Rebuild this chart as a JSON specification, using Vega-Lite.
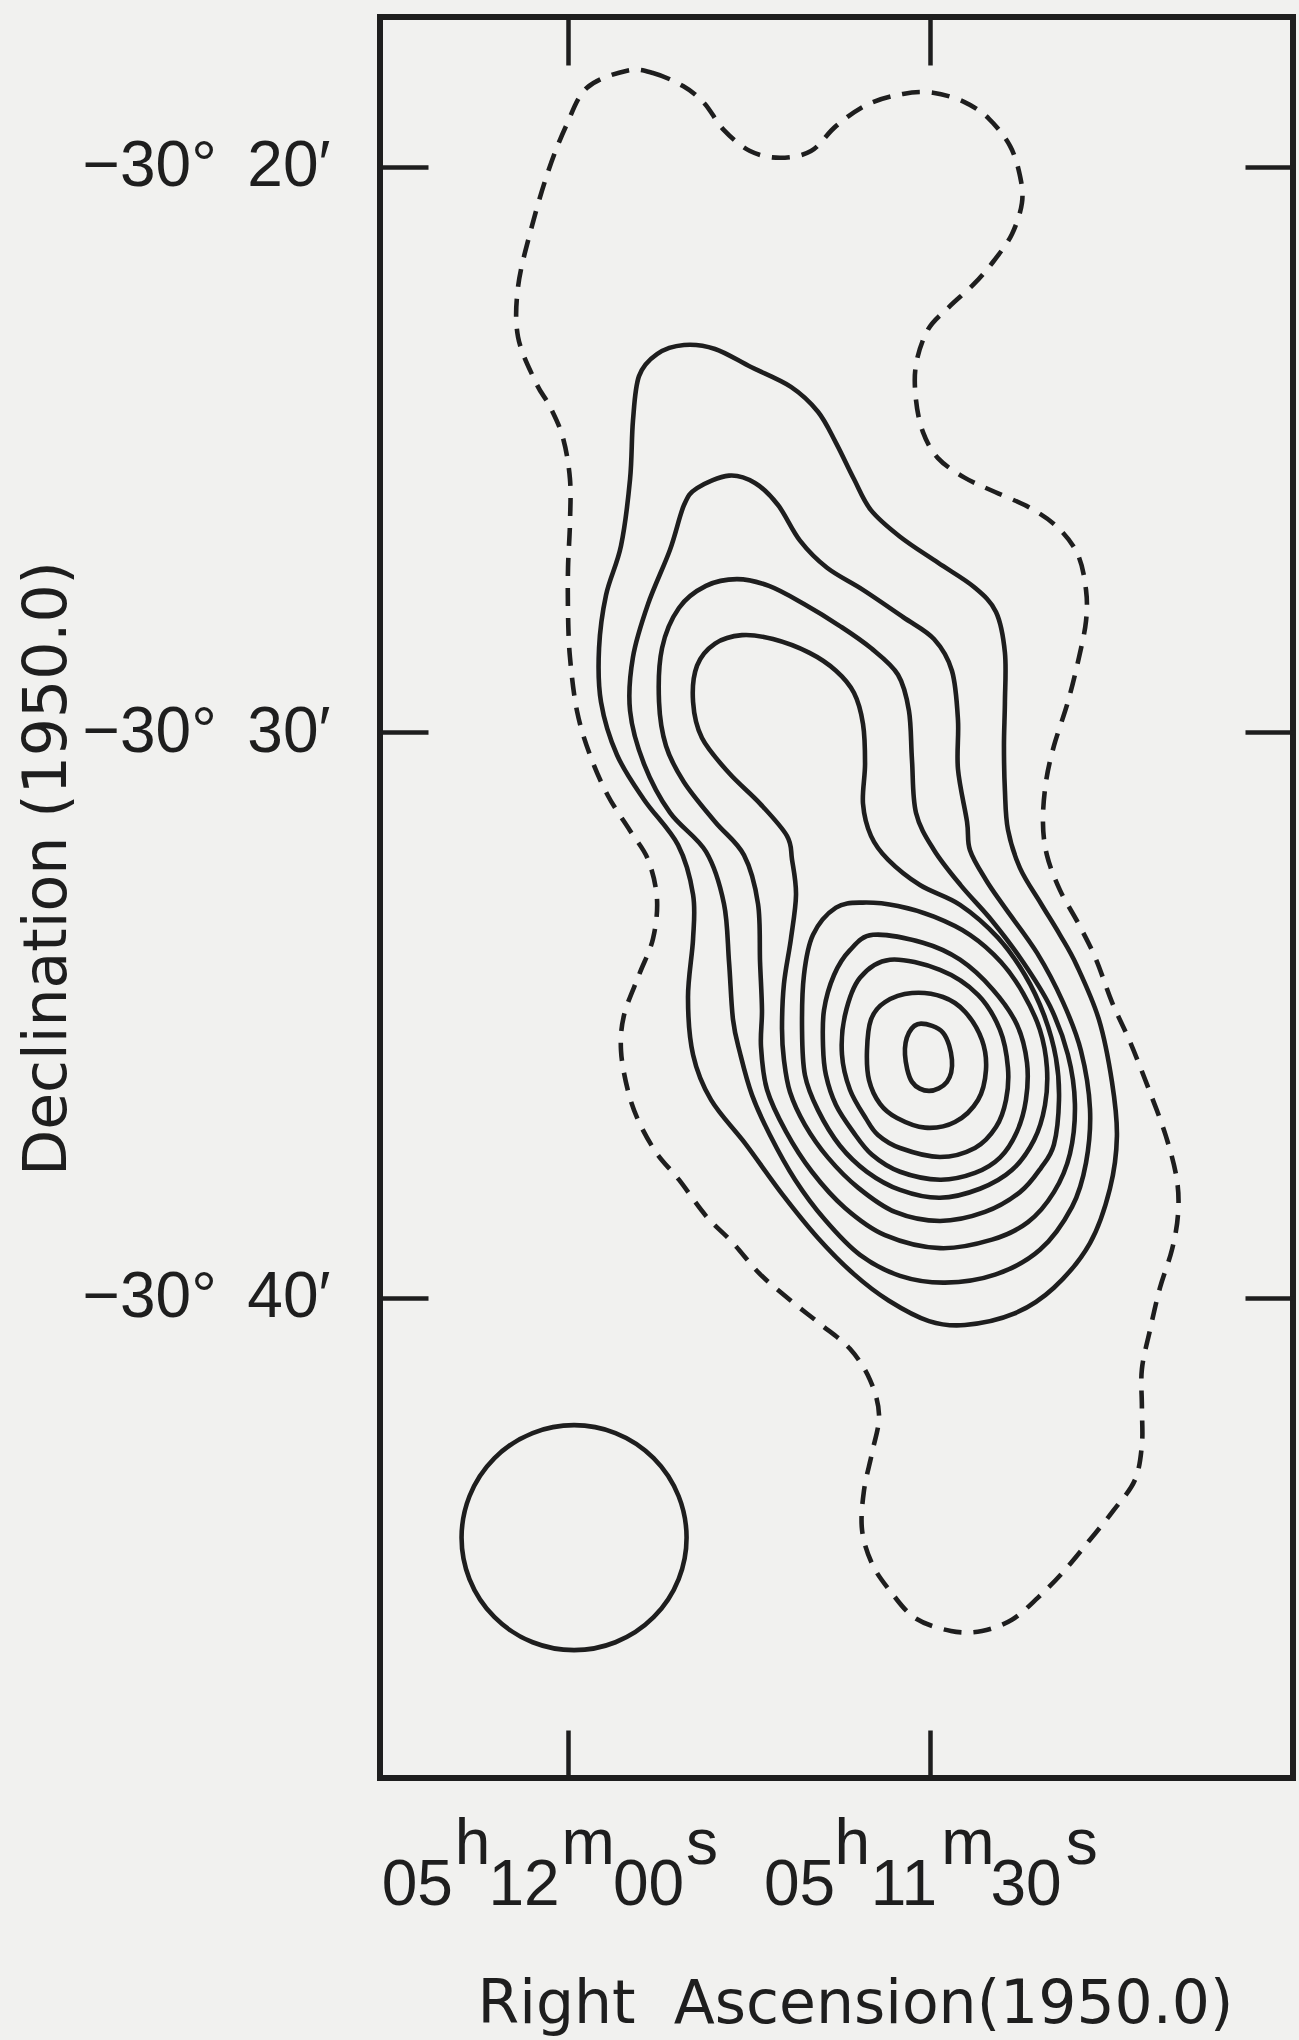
{
"$schema": "https://vega.github.io/schema/vega-lite/v6.json",
"width": 913, "height": 1761,
"autosize": {"type": "none"},
"padding": {"left": 380, "top": 17, "right": 6, "bottom": 262},
"background": "#f1f1ef",
"config": {"view": {"stroke": "#1e1e1e", "strokeWidth": 6}},
"datasets": {
"beam": [{"ra_s": 59.50, "dec_am": 44.24}],
"contours": [
{"contour":"d0","kind":"dashed","order":1,"ra_s":55.11,"dec_am":18.30},
{"contour":"d0","kind":"dashed","order":2,"ra_s":52.96,"dec_am":18.34},
{"contour":"d0","kind":"dashed","order":3,"ra_s":50.47,"dec_am":18.57},
{"contour":"d0","kind":"dashed","order":4,"ra_s":48.73,"dec_am":18.87},
{"contour":"d0","kind":"dashed","order":5,"ra_s":47.08,"dec_am":19.35},
{"contour":"d0","kind":"dashed","order":6,"ra_s":44.92,"dec_am":19.72},
{"contour":"d0","kind":"dashed","order":7,"ra_s":42.44,"dec_am":19.84},
{"contour":"d0","kind":"dashed","order":8,"ra_s":39.87,"dec_am":19.72},
{"contour":"d0","kind":"dashed","order":9,"ra_s":37.80,"dec_am":19.28},
{"contour":"d0","kind":"dashed","order":10,"ra_s":35.23,"dec_am":18.90},
{"contour":"d0","kind":"dashed","order":11,"ra_s":32.25,"dec_am":18.71},
{"contour":"d0","kind":"dashed","order":12,"ra_s":29.76,"dec_am":18.69},
{"contour":"d0","kind":"dashed","order":13,"ra_s":27.19,"dec_am":18.85},
{"contour":"d0","kind":"dashed","order":14,"ra_s":25.12,"dec_am":19.15},
{"contour":"d0","kind":"dashed","order":15,"ra_s":23.38,"dec_am":19.63},
{"contour":"d0","kind":"dashed","order":16,"ra_s":22.55,"dec_am":20.16},
{"contour":"d0","kind":"dashed","order":17,"ra_s":22.39,"dec_am":20.64},
{"contour":"d0","kind":"dashed","order":18,"ra_s":23.22,"dec_am":21.19},
{"contour":"d0","kind":"dashed","order":19,"ra_s":24.71,"dec_am":21.66},
{"contour":"d0","kind":"dashed","order":20,"ra_s":26.36,"dec_am":22.07},
{"contour":"d0","kind":"dashed","order":21,"ra_s":28.44,"dec_am":22.48},
{"contour":"d0","kind":"dashed","order":22,"ra_s":30.18,"dec_am":22.88},
{"contour":"d0","kind":"dashed","order":23,"ra_s":31.17,"dec_am":23.50},
{"contour":"d0","kind":"dashed","order":24,"ra_s":31.17,"dec_am":24.12},
{"contour":"d0","kind":"dashed","order":25,"ra_s":30.59,"dec_am":24.69},
{"contour":"d0","kind":"dashed","order":26,"ra_s":29.35,"dec_am":25.15},
{"contour":"d0","kind":"dashed","order":27,"ra_s":27.11,"dec_am":25.50},
{"contour":"d0","kind":"dashed","order":28,"ra_s":24.62,"dec_am":25.75},
{"contour":"d0","kind":"dashed","order":29,"ra_s":21.72,"dec_am":26.03},
{"contour":"d0","kind":"dashed","order":30,"ra_s":19.40,"dec_am":26.38},
{"contour":"d0","kind":"dashed","order":31,"ra_s":17.75,"dec_am":26.86},
{"contour":"d0","kind":"dashed","order":32,"ra_s":17.08,"dec_am":27.48},
{"contour":"d0","kind":"dashed","order":33,"ra_s":17.08,"dec_am":28.03},
{"contour":"d0","kind":"dashed","order":34,"ra_s":17.66,"dec_am":28.67},
{"contour":"d0","kind":"dashed","order":35,"ra_s":18.58,"dec_am":29.46},
{"contour":"d0","kind":"dashed","order":36,"ra_s":19.74,"dec_am":30.24},
{"contour":"d0","kind":"dashed","order":37,"ra_s":20.40,"dec_am":30.88},
{"contour":"d0","kind":"dashed","order":38,"ra_s":20.65,"dec_am":31.58},
{"contour":"d0","kind":"dashed","order":39,"ra_s":20.32,"dec_am":32.17},
{"contour":"d0","kind":"dashed","order":40,"ra_s":19.24,"dec_am":32.79},
{"contour":"d0","kind":"dashed","order":41,"ra_s":17.66,"dec_am":33.40},
{"contour":"d0","kind":"dashed","order":42,"ra_s":16.26,"dec_am":34.01},
{"contour":"d0","kind":"dashed","order":43,"ra_s":14.93,"dec_am":34.77},
{"contour":"d0","kind":"dashed","order":44,"ra_s":13.44,"dec_am":35.47},
{"contour":"d0","kind":"dashed","order":45,"ra_s":11.95,"dec_am":36.27},
{"contour":"d0","kind":"dashed","order":46,"ra_s":10.46,"dec_am":37.14},
{"contour":"d0","kind":"dashed","order":47,"ra_s":9.55,"dec_am":37.91},
{"contour":"d0","kind":"dashed","order":48,"ra_s":9.46,"dec_am":38.53},
{"contour":"d0","kind":"dashed","order":49,"ra_s":9.96,"dec_am":39.15},
{"contour":"d0","kind":"dashed","order":50,"ra_s":10.95,"dec_am":39.82},
{"contour":"d0","kind":"dashed","order":51,"ra_s":11.78,"dec_am":40.57},
{"contour":"d0","kind":"dashed","order":52,"ra_s":12.45,"dec_am":41.26},
{"contour":"d0","kind":"dashed","order":53,"ra_s":12.45,"dec_am":41.93},
{"contour":"d0","kind":"dashed","order":54,"ra_s":12.45,"dec_am":42.60},
{"contour":"d0","kind":"dashed","order":55,"ra_s":13.03,"dec_am":43.22},
{"contour":"d0","kind":"dashed","order":56,"ra_s":14.77,"dec_am":43.75},
{"contour":"d0","kind":"dashed","order":57,"ra_s":16.84,"dec_am":44.30},
{"contour":"d0","kind":"dashed","order":58,"ra_s":18.99,"dec_am":44.85},
{"contour":"d0","kind":"dashed","order":59,"ra_s":21.06,"dec_am":45.30},
{"contour":"d0","kind":"dashed","order":60,"ra_s":23.22,"dec_am":45.69},
{"contour":"d0","kind":"dashed","order":61,"ra_s":25.70,"dec_am":45.89},
{"contour":"d0","kind":"dashed","order":62,"ra_s":28.27,"dec_am":45.89},
{"contour":"d0","kind":"dashed","order":63,"ra_s":31.25,"dec_am":45.66},
{"contour":"d0","kind":"dashed","order":64,"ra_s":33.32,"dec_am":45.18},
{"contour":"d0","kind":"dashed","order":65,"ra_s":34.81,"dec_am":44.70},
{"contour":"d0","kind":"dashed","order":66,"ra_s":35.64,"dec_am":44.10},
{"contour":"d0","kind":"dashed","order":67,"ra_s":35.48,"dec_am":43.41},
{"contour":"d0","kind":"dashed","order":68,"ra_s":34.81,"dec_am":42.74},
{"contour":"d0","kind":"dashed","order":69,"ra_s":34.23,"dec_am":42.07},
{"contour":"d0","kind":"dashed","order":70,"ra_s":34.98,"dec_am":41.45},
{"contour":"d0","kind":"dashed","order":71,"ra_s":36.64,"dec_am":40.90},
{"contour":"d0","kind":"dashed","order":72,"ra_s":39.12,"dec_am":40.46},
{"contour":"d0","kind":"dashed","order":73,"ra_s":41.53,"dec_am":40.05},
{"contour":"d0","kind":"dashed","order":74,"ra_s":44.09,"dec_am":39.58},
{"contour":"d0","kind":"dashed","order":75,"ra_s":46.33,"dec_am":39.03},
{"contour":"d0","kind":"dashed","order":76,"ra_s":48.57,"dec_am":38.55},
{"contour":"d0","kind":"dashed","order":77,"ra_s":50.81,"dec_am":37.91},
{"contour":"d0","kind":"dashed","order":78,"ra_s":52.63,"dec_am":37.45},
{"contour":"d0","kind":"dashed","order":79,"ra_s":54.12,"dec_am":36.89},
{"contour":"d0","kind":"dashed","order":80,"ra_s":55.03,"dec_am":36.34},
{"contour":"d0","kind":"dashed","order":81,"ra_s":55.61,"dec_am":35.63},
{"contour":"d0","kind":"dashed","order":82,"ra_s":55.36,"dec_am":35.00},
{"contour":"d0","kind":"dashed","order":83,"ra_s":54.12,"dec_am":34.29},
{"contour":"d0","kind":"dashed","order":84,"ra_s":52.96,"dec_am":33.65},
{"contour":"d0","kind":"dashed","order":85,"ra_s":52.63,"dec_am":32.94},
{"contour":"d0","kind":"dashed","order":86,"ra_s":53.37,"dec_am":32.25},
{"contour":"d0","kind":"dashed","order":87,"ra_s":54.86,"dec_am":31.74},
{"contour":"d0","kind":"dashed","order":88,"ra_s":56.69,"dec_am":31.12},
{"contour":"d0","kind":"dashed","order":89,"ra_s":58.18,"dec_am":30.40},
{"contour":"d0","kind":"dashed","order":90,"ra_s":59.26,"dec_am":29.62},
{"contour":"d0","kind":"dashed","order":91,"ra_s":59.84,"dec_am":28.67},
{"contour":"d0","kind":"dashed","order":92,"ra_s":60.00,"dec_am":27.89},
{"contour":"d0","kind":"dashed","order":93,"ra_s":60.00,"dec_am":27.09},
{"contour":"d0","kind":"dashed","order":94,"ra_s":59.84,"dec_am":26.30},
{"contour":"d0","kind":"dashed","order":95,"ra_s":59.84,"dec_am":25.52},
{"contour":"d0","kind":"dashed","order":96,"ra_s":60.42,"dec_am":24.79},
{"contour":"d0","kind":"dashed","order":97,"ra_s":61.49,"dec_am":24.24},
{"contour":"d0","kind":"dashed","order":98,"ra_s":62.65,"dec_am":23.82},
{"contour":"d0","kind":"dashed","order":99,"ra_s":64.14,"dec_am":23.01},
{"contour":"d0","kind":"dashed","order":100,"ra_s":64.14,"dec_am":22.12},
{"contour":"d0","kind":"dashed","order":101,"ra_s":63.07,"dec_am":21.11},
{"contour":"d0","kind":"dashed","order":102,"ra_s":61.66,"dec_am":20.09},
{"contour":"d0","kind":"dashed","order":103,"ra_s":60.17,"dec_am":19.28},
{"contour":"d0","kind":"dashed","order":104,"ra_s":58.43,"dec_am":18.60},
{"contour":"c1","kind":"solid","order":1,"ra_s":50.39,"dec_am":23.15},
{"contour":"c1","kind":"solid","order":2,"ra_s":47.82,"dec_am":23.22},
{"contour":"c1","kind":"solid","order":3,"ra_s":44.84,"dec_am":23.54},
{"contour":"c1","kind":"solid","order":4,"ra_s":41.53,"dec_am":23.89},
{"contour":"c1","kind":"solid","order":5,"ra_s":39.29,"dec_am":24.33},
{"contour":"c1","kind":"solid","order":6,"ra_s":37.80,"dec_am":24.88},
{"contour":"c1","kind":"solid","order":7,"ra_s":36.31,"dec_am":25.52},
{"contour":"c1","kind":"solid","order":8,"ra_s":34.90,"dec_am":26.07},
{"contour":"c1","kind":"solid","order":9,"ra_s":32.49,"dec_am":26.54},
{"contour":"c1","kind":"solid","order":10,"ra_s":29.35,"dec_am":27.00},
{"contour":"c1","kind":"solid","order":11,"ra_s":26.36,"dec_am":27.43},
{"contour":"c1","kind":"solid","order":12,"ra_s":24.54,"dec_am":27.87},
{"contour":"c1","kind":"solid","order":13,"ra_s":23.80,"dec_am":28.59},
{"contour":"c1","kind":"solid","order":14,"ra_s":23.80,"dec_am":29.46},
{"contour":"c1","kind":"solid","order":15,"ra_s":23.88,"dec_am":30.24},
{"contour":"c1","kind":"solid","order":16,"ra_s":23.80,"dec_am":31.03},
{"contour":"c1","kind":"solid","order":17,"ra_s":23.55,"dec_am":31.72},
{"contour":"c1","kind":"solid","order":18,"ra_s":22.55,"dec_am":32.40},
{"contour":"c1","kind":"solid","order":19,"ra_s":20.81,"dec_am":33.03},
{"contour":"c1","kind":"solid","order":20,"ra_s":19.24,"dec_am":33.58},
{"contour":"c1","kind":"solid","order":21,"ra_s":17.83,"dec_am":34.13},
{"contour":"c1","kind":"solid","order":22,"ra_s":16.01,"dec_am":35.08},
{"contour":"c1","kind":"solid","order":23,"ra_s":14.93,"dec_am":36.18},
{"contour":"c1","kind":"solid","order":24,"ra_s":14.52,"dec_am":37.14},
{"contour":"c1","kind":"solid","order":25,"ra_s":15.10,"dec_am":38.07},
{"contour":"c1","kind":"solid","order":26,"ra_s":16.75,"dec_am":39.03},
{"contour":"c1","kind":"solid","order":27,"ra_s":19.74,"dec_am":39.82},
{"contour":"c1","kind":"solid","order":28,"ra_s":23.05,"dec_am":40.28},
{"contour":"c1","kind":"solid","order":29,"ra_s":27.11,"dec_am":40.48},
{"contour":"c1","kind":"solid","order":30,"ra_s":30.09,"dec_am":40.41},
{"contour":"c1","kind":"solid","order":31,"ra_s":33.41,"dec_am":40.05},
{"contour":"c1","kind":"solid","order":32,"ra_s":36.31,"dec_am":39.58},
{"contour":"c1","kind":"solid","order":33,"ra_s":39.29,"dec_am":38.94},
{"contour":"c1","kind":"solid","order":34,"ra_s":42.27,"dec_am":38.16},
{"contour":"c1","kind":"solid","order":35,"ra_s":45.25,"dec_am":37.29},
{"contour":"c1","kind":"solid","order":36,"ra_s":48.15,"dec_am":36.50},
{"contour":"c1","kind":"solid","order":37,"ra_s":49.64,"dec_am":35.70},
{"contour":"c1","kind":"solid","order":38,"ra_s":50.06,"dec_am":34.68},
{"contour":"c1","kind":"solid","order":39,"ra_s":49.64,"dec_am":33.65},
{"contour":"c1","kind":"solid","order":40,"ra_s":49.64,"dec_am":32.87},
{"contour":"c1","kind":"solid","order":41,"ra_s":50.89,"dec_am":31.99},
{"contour":"c1","kind":"solid","order":42,"ra_s":53.70,"dec_am":31.19},
{"contour":"c1","kind":"solid","order":43,"ra_s":55.94,"dec_am":30.40},
{"contour":"c1","kind":"solid","order":44,"ra_s":57.27,"dec_am":29.46},
{"contour":"c1","kind":"solid","order":45,"ra_s":57.43,"dec_am":28.51},
{"contour":"c1","kind":"solid","order":46,"ra_s":56.85,"dec_am":27.57},
{"contour":"c1","kind":"solid","order":47,"ra_s":55.61,"dec_am":26.70},
{"contour":"c1","kind":"solid","order":48,"ra_s":54.86,"dec_am":25.52},
{"contour":"c1","kind":"solid","order":49,"ra_s":54.62,"dec_am":24.49},
{"contour":"c1","kind":"solid","order":50,"ra_s":54.12,"dec_am":23.70},
{"contour":"c1","kind":"solid","order":51,"ra_s":52.63,"dec_am":23.31},
{"contour":"c2","kind":"solid","order":1,"ra_s":46.66,"dec_am":25.46},
{"contour":"c2","kind":"solid","order":2,"ra_s":44.51,"dec_am":25.59},
{"contour":"c2","kind":"solid","order":3,"ra_s":42.60,"dec_am":25.98},
{"contour":"c2","kind":"solid","order":4,"ra_s":40.78,"dec_am":26.61},
{"contour":"c2","kind":"solid","order":5,"ra_s":38.54,"dec_am":27.09},
{"contour":"c2","kind":"solid","order":6,"ra_s":35.56,"dec_am":27.48},
{"contour":"c2","kind":"solid","order":7,"ra_s":32.25,"dec_am":27.96},
{"contour":"c2","kind":"solid","order":8,"ra_s":29.68,"dec_am":28.35},
{"contour":"c2","kind":"solid","order":9,"ra_s":28.19,"dec_am":28.91},
{"contour":"c2","kind":"solid","order":10,"ra_s":27.69,"dec_am":29.78},
{"contour":"c2","kind":"solid","order":11,"ra_s":27.69,"dec_am":30.65},
{"contour":"c2","kind":"solid","order":12,"ra_s":26.94,"dec_am":31.58},
{"contour":"c2","kind":"solid","order":13,"ra_s":26.70,"dec_am":32.08},
{"contour":"c2","kind":"solid","order":14,"ra_s":25.37,"dec_am":32.61},
{"contour":"c2","kind":"solid","order":15,"ra_s":23.80,"dec_am":33.10},
{"contour":"c2","kind":"solid","order":16,"ra_s":21.14,"dec_am":33.90},
{"contour":"c2","kind":"solid","order":17,"ra_s":18.99,"dec_am":34.77},
{"contour":"c2","kind":"solid","order":18,"ra_s":17.50,"dec_am":35.63},
{"contour":"c2","kind":"solid","order":19,"ra_s":16.75,"dec_am":36.66},
{"contour":"c2","kind":"solid","order":20,"ra_s":17.08,"dec_am":37.61},
{"contour":"c2","kind":"solid","order":21,"ra_s":18.24,"dec_am":38.39},
{"contour":"c2","kind":"solid","order":22,"ra_s":20.90,"dec_am":39.15},
{"contour":"c2","kind":"solid","order":23,"ra_s":24.62,"dec_am":39.59},
{"contour":"c2","kind":"solid","order":24,"ra_s":28.77,"dec_am":39.73},
{"contour":"c2","kind":"solid","order":25,"ra_s":32.49,"dec_am":39.61},
{"contour":"c2","kind":"solid","order":26,"ra_s":35.81,"dec_am":39.24},
{"contour":"c2","kind":"solid","order":27,"ra_s":38.71,"dec_am":38.62},
{"contour":"c2","kind":"solid","order":28,"ra_s":41.19,"dec_am":37.91},
{"contour":"c2","kind":"solid","order":29,"ra_s":43.27,"dec_am":37.12},
{"contour":"c2","kind":"solid","order":30,"ra_s":44.76,"dec_am":36.41},
{"contour":"c2","kind":"solid","order":31,"ra_s":45.75,"dec_am":35.67},
{"contour":"c2","kind":"solid","order":32,"ra_s":46.33,"dec_am":35.08},
{"contour":"c2","kind":"solid","order":33,"ra_s":46.66,"dec_am":34.06},
{"contour":"c2","kind":"solid","order":34,"ra_s":47.08,"dec_am":33.03},
{"contour":"c2","kind":"solid","order":35,"ra_s":48.57,"dec_am":32.11},
{"contour":"c2","kind":"solid","order":36,"ra_s":51.55,"dec_am":31.42},
{"contour":"c2","kind":"solid","order":37,"ra_s":53.70,"dec_am":30.56},
{"contour":"c2","kind":"solid","order":38,"ra_s":54.86,"dec_am":29.62},
{"contour":"c2","kind":"solid","order":39,"ra_s":54.62,"dec_am":28.67},
{"contour":"c2","kind":"solid","order":40,"ra_s":53.37,"dec_am":27.73},
{"contour":"c2","kind":"solid","order":41,"ra_s":51.55,"dec_am":26.77},
{"contour":"c2","kind":"solid","order":42,"ra_s":50.39,"dec_am":25.98},
{"contour":"c2","kind":"solid","order":43,"ra_s":49.31,"dec_am":25.68},
{"contour":"c3","kind":"solid","order":1,"ra_s":46.00,"dec_am":27.29},
{"contour":"c3","kind":"solid","order":2,"ra_s":43.35,"dec_am":27.41},
{"contour":"c3","kind":"solid","order":3,"ra_s":40.45,"dec_am":27.73},
{"contour":"c3","kind":"solid","order":4,"ra_s":37.47,"dec_am":28.12},
{"contour":"c3","kind":"solid","order":5,"ra_s":34.90,"dec_am":28.51},
{"contour":"c3","kind":"solid","order":6,"ra_s":32.66,"dec_am":28.98},
{"contour":"c3","kind":"solid","order":7,"ra_s":31.75,"dec_am":29.62},
{"contour":"c3","kind":"solid","order":8,"ra_s":31.50,"dec_am":30.49},
{"contour":"c3","kind":"solid","order":9,"ra_s":31.17,"dec_am":31.42},
{"contour":"c3","kind":"solid","order":10,"ra_s":29.68,"dec_am":32.08},
{"contour":"c3","kind":"solid","order":11,"ra_s":27.44,"dec_am":32.71},
{"contour":"c3","kind":"solid","order":12,"ra_s":24.87,"dec_am":33.33},
{"contour":"c3","kind":"solid","order":13,"ra_s":22.30,"dec_am":34.06},
{"contour":"c3","kind":"solid","order":14,"ra_s":20.07,"dec_am":34.84},
{"contour":"c3","kind":"solid","order":15,"ra_s":18.58,"dec_am":35.70},
{"contour":"c3","kind":"solid","order":16,"ra_s":18.00,"dec_am":36.57},
{"contour":"c3","kind":"solid","order":17,"ra_s":18.41,"dec_am":37.45},
{"contour":"c3","kind":"solid","order":18,"ra_s":19.74,"dec_am":38.13},
{"contour":"c3","kind":"solid","order":19,"ra_s":21.89,"dec_am":38.66},
{"contour":"c3","kind":"solid","order":20,"ra_s":24.87,"dec_am":38.97},
{"contour":"c3","kind":"solid","order":21,"ra_s":29.18,"dec_am":39.12},
{"contour":"c3","kind":"solid","order":22,"ra_s":33.74,"dec_am":38.89},
{"contour":"c3","kind":"solid","order":23,"ra_s":37.05,"dec_am":38.41},
{"contour":"c3","kind":"solid","order":24,"ra_s":39.79,"dec_am":37.77},
{"contour":"c3","kind":"solid","order":25,"ra_s":41.94,"dec_am":37.06},
{"contour":"c3","kind":"solid","order":26,"ra_s":43.51,"dec_am":36.32},
{"contour":"c3","kind":"solid","order":27,"ra_s":44.01,"dec_am":35.56},
{"contour":"c3","kind":"solid","order":28,"ra_s":43.93,"dec_am":34.91},
{"contour":"c3","kind":"solid","order":29,"ra_s":44.09,"dec_am":34.06},
{"contour":"c3","kind":"solid","order":30,"ra_s":44.26,"dec_am":33.03},
{"contour":"c3","kind":"solid","order":31,"ra_s":45.42,"dec_am":32.17},
{"contour":"c3","kind":"solid","order":32,"ra_s":47.82,"dec_am":31.58},
{"contour":"c3","kind":"solid","order":33,"ra_s":50.39,"dec_am":30.88},
{"contour":"c3","kind":"solid","order":34,"ra_s":51.88,"dec_am":30.24},
{"contour":"c3","kind":"solid","order":35,"ra_s":52.46,"dec_am":29.46},
{"contour":"c3","kind":"solid","order":36,"ra_s":52.21,"dec_am":28.51},
{"contour":"c3","kind":"solid","order":37,"ra_s":50.81,"dec_am":27.80},
{"contour":"c3","kind":"solid","order":38,"ra_s":48.57,"dec_am":27.41},
{"contour":"c4","kind":"solid","order":1,"ra_s":45.59,"dec_am":28.28},
{"contour":"c4","kind":"solid","order":2,"ra_s":43.02,"dec_am":28.35},
{"contour":"c4","kind":"solid","order":3,"ra_s":40.03,"dec_am":28.59},
{"contour":"c4","kind":"solid","order":4,"ra_s":37.80,"dec_am":28.91},
{"contour":"c4","kind":"solid","order":5,"ra_s":36.31,"dec_am":29.30},
{"contour":"c4","kind":"solid","order":6,"ra_s":35.56,"dec_am":29.85},
{"contour":"c4","kind":"solid","order":7,"ra_s":35.39,"dec_am":30.56},
{"contour":"c4","kind":"solid","order":8,"ra_s":35.56,"dec_am":31.26},
{"contour":"c4","kind":"solid","order":9,"ra_s":34.90,"dec_am":31.83},
{"contour":"c4","kind":"solid","order":10,"ra_s":33.49,"dec_am":32.25},
{"contour":"c4","kind":"solid","order":11,"ra_s":30.84,"dec_am":32.70},
{"contour":"c4","kind":"solid","order":12,"ra_s":27.52,"dec_am":33.05},
{"contour":"c4","kind":"solid","order":13,"ra_s":24.38,"dec_am":33.63},
{"contour":"c4","kind":"solid","order":14,"ra_s":22.14,"dec_am":34.29},
{"contour":"c4","kind":"solid","order":15,"ra_s":20.56,"dec_am":35.00},
{"contour":"c4","kind":"solid","order":16,"ra_s":19.57,"dec_am":35.76},
{"contour":"c4","kind":"solid","order":17,"ra_s":19.32,"dec_am":36.50},
{"contour":"c4","kind":"solid","order":18,"ra_s":19.74,"dec_am":37.29},
{"contour":"c4","kind":"solid","order":19,"ra_s":20.81,"dec_am":37.70},
{"contour":"c4","kind":"solid","order":20,"ra_s":22.55,"dec_am":38.13},
{"contour":"c4","kind":"solid","order":21,"ra_s":25.45,"dec_am":38.48},
{"contour":"c4","kind":"solid","order":22,"ra_s":29.18,"dec_am":38.64},
{"contour":"c4","kind":"solid","order":23,"ra_s":32.91,"dec_am":38.48},
{"contour":"c4","kind":"solid","order":24,"ra_s":35.97,"dec_am":38.05},
{"contour":"c4","kind":"solid","order":25,"ra_s":38.46,"dec_am":37.52},
{"contour":"c4","kind":"solid","order":26,"ra_s":40.37,"dec_am":36.94},
{"contour":"c4","kind":"solid","order":27,"ra_s":41.61,"dec_am":36.36},
{"contour":"c4","kind":"solid","order":28,"ra_s":42.11,"dec_am":35.79},
{"contour":"c4","kind":"solid","order":29,"ra_s":42.27,"dec_am":35.24},
{"contour":"c4","kind":"solid","order":30,"ra_s":42.11,"dec_am":34.45},
{"contour":"c4","kind":"solid","order":31,"ra_s":41.53,"dec_am":33.65},
{"contour":"c4","kind":"solid","order":32,"ra_s":41.11,"dec_am":32.87},
{"contour":"c4","kind":"solid","order":33,"ra_s":41.44,"dec_am":32.25},
{"contour":"c4","kind":"solid","order":34,"ra_s":41.86,"dec_am":31.83},
{"contour":"c4","kind":"solid","order":35,"ra_s":44.09,"dec_am":31.26},
{"contour":"c4","kind":"solid","order":36,"ra_s":46.66,"dec_am":30.72},
{"contour":"c4","kind":"solid","order":37,"ra_s":48.90,"dec_am":30.10},
{"contour":"c4","kind":"solid","order":38,"ra_s":49.64,"dec_am":29.46},
{"contour":"c4","kind":"solid","order":39,"ra_s":49.31,"dec_am":28.82},
{"contour":"c4","kind":"solid","order":40,"ra_s":47.82,"dec_am":28.43},
{"contour":"c5","kind":"solid","order":1,"ra_s":37.80,"dec_am":33.10},
{"contour":"c5","kind":"solid","order":2,"ra_s":35.56,"dec_am":33.01},
{"contour":"c5","kind":"solid","order":3,"ra_s":32.66,"dec_am":33.07},
{"contour":"c5","kind":"solid","order":4,"ra_s":29.68,"dec_am":33.26},
{"contour":"c5","kind":"solid","order":5,"ra_s":26.70,"dec_am":33.58},
{"contour":"c5","kind":"solid","order":6,"ra_s":24.13,"dec_am":34.06},
{"contour":"c5","kind":"solid","order":7,"ra_s":22.30,"dec_am":34.61},
{"contour":"c5","kind":"solid","order":8,"ra_s":20.90,"dec_am":35.26},
{"contour":"c5","kind":"solid","order":9,"ra_s":20.32,"dec_am":35.93},
{"contour":"c5","kind":"solid","order":10,"ra_s":20.48,"dec_am":36.59},
{"contour":"c5","kind":"solid","order":11,"ra_s":21.39,"dec_am":37.21},
{"contour":"c5","kind":"solid","order":12,"ra_s":23.22,"dec_am":37.74},
{"contour":"c5","kind":"solid","order":13,"ra_s":25.87,"dec_am":38.07},
{"contour":"c5","kind":"solid","order":14,"ra_s":29.18,"dec_am":38.23},
{"contour":"c5","kind":"solid","order":15,"ra_s":32.49,"dec_am":38.09},
{"contour":"c5","kind":"solid","order":16,"ra_s":35.23,"dec_am":37.77},
{"contour":"c5","kind":"solid","order":17,"ra_s":37.47,"dec_am":37.31},
{"contour":"c5","kind":"solid","order":18,"ra_s":39.29,"dec_am":36.68},
{"contour":"c5","kind":"solid","order":19,"ra_s":40.37,"dec_am":36.06},
{"contour":"c5","kind":"solid","order":20,"ra_s":40.61,"dec_am":35.24},
{"contour":"c5","kind":"solid","order":21,"ra_s":40.45,"dec_am":34.29},
{"contour":"c5","kind":"solid","order":22,"ra_s":39.70,"dec_am":33.58},
{"contour":"c6","kind":"solid","order":1,"ra_s":34.73,"dec_am":33.58},
{"contour":"c6","kind":"solid","order":2,"ra_s":30.59,"dec_am":33.72},
{"contour":"c6","kind":"solid","order":3,"ra_s":27.52,"dec_am":34.02},
{"contour":"c6","kind":"solid","order":4,"ra_s":24.79,"dec_am":34.55},
{"contour":"c6","kind":"solid","order":5,"ra_s":22.80,"dec_am":35.17},
{"contour":"c6","kind":"solid","order":6,"ra_s":21.97,"dec_am":35.84},
{"contour":"c6","kind":"solid","order":7,"ra_s":22.06,"dec_am":36.50},
{"contour":"c6","kind":"solid","order":8,"ra_s":22.80,"dec_am":37.06},
{"contour":"c6","kind":"solid","order":9,"ra_s":24.21,"dec_am":37.52},
{"contour":"c6","kind":"solid","order":10,"ra_s":26.28,"dec_am":37.79},
{"contour":"c6","kind":"solid","order":11,"ra_s":29.18,"dec_am":37.91},
{"contour":"c6","kind":"solid","order":12,"ra_s":32.49,"dec_am":37.77},
{"contour":"c6","kind":"solid","order":13,"ra_s":34.81,"dec_am":37.47},
{"contour":"c6","kind":"solid","order":14,"ra_s":36.39,"dec_am":37.06},
{"contour":"c6","kind":"solid","order":15,"ra_s":37.80,"dec_am":36.59},
{"contour":"c6","kind":"solid","order":16,"ra_s":38.63,"dec_am":36.06},
{"contour":"c6","kind":"solid","order":17,"ra_s":38.87,"dec_am":35.56},
{"contour":"c6","kind":"solid","order":18,"ra_s":38.79,"dec_am":34.91},
{"contour":"c6","kind":"solid","order":19,"ra_s":37.96,"dec_am":34.29},
{"contour":"c6","kind":"solid","order":20,"ra_s":36.64,"dec_am":33.85},
{"contour":"c7","kind":"solid","order":1,"ra_s":33.32,"dec_am":34.02},
{"contour":"c7","kind":"solid","order":2,"ra_s":29.18,"dec_am":34.20},
{"contour":"c7","kind":"solid","order":3,"ra_s":26.03,"dec_am":34.64},
{"contour":"c7","kind":"solid","order":4,"ra_s":24.21,"dec_am":35.26},
{"contour":"c7","kind":"solid","order":5,"ra_s":23.55,"dec_am":35.93},
{"contour":"c7","kind":"solid","order":6,"ra_s":23.71,"dec_am":36.50},
{"contour":"c7","kind":"solid","order":7,"ra_s":24.54,"dec_am":36.98},
{"contour":"c7","kind":"solid","order":8,"ra_s":26.28,"dec_am":37.35},
{"contour":"c7","kind":"solid","order":9,"ra_s":29.18,"dec_am":37.51},
{"contour":"c7","kind":"solid","order":10,"ra_s":32.49,"dec_am":37.35},
{"contour":"c7","kind":"solid","order":11,"ra_s":34.32,"dec_am":37.12},
{"contour":"c7","kind":"solid","order":12,"ra_s":35.31,"dec_am":36.83},
{"contour":"c7","kind":"solid","order":13,"ra_s":36.64,"dec_am":36.32},
{"contour":"c7","kind":"solid","order":14,"ra_s":37.30,"dec_am":35.70},
{"contour":"c7","kind":"solid","order":15,"ra_s":37.05,"dec_am":35.00},
{"contour":"c7","kind":"solid","order":16,"ra_s":35.81,"dec_am":34.34},
{"contour":"c8","kind":"solid","order":1,"ra_s":33.74,"dec_am":34.77},
{"contour":"c8","kind":"solid","order":2,"ra_s":31.50,"dec_am":34.61},
{"contour":"c8","kind":"solid","order":3,"ra_s":28.93,"dec_am":34.68},
{"contour":"c8","kind":"solid","order":4,"ra_s":27.11,"dec_am":34.94},
{"contour":"c8","kind":"solid","order":5,"ra_s":25.70,"dec_am":35.44},
{"contour":"c8","kind":"solid","order":6,"ra_s":25.37,"dec_am":35.97},
{"contour":"c8","kind":"solid","order":7,"ra_s":26.03,"dec_am":36.50},
{"contour":"c8","kind":"solid","order":8,"ra_s":27.94,"dec_am":36.89},
{"contour":"c8","kind":"solid","order":9,"ra_s":30.42,"dec_am":36.99},
{"contour":"c8","kind":"solid","order":10,"ra_s":32.74,"dec_am":36.82},
{"contour":"c8","kind":"solid","order":11,"ra_s":34.15,"dec_am":36.57},
{"contour":"c8","kind":"solid","order":12,"ra_s":35.06,"dec_am":36.15},
{"contour":"c8","kind":"solid","order":13,"ra_s":35.23,"dec_am":35.63},
{"contour":"c8","kind":"solid","order":14,"ra_s":34.90,"dec_am":35.08},
{"contour":"c9","kind":"solid","order":1,"ra_s":30.75,"dec_am":35.15},
{"contour":"c9","kind":"solid","order":2,"ra_s":28.93,"dec_am":35.31},
{"contour":"c9","kind":"solid","order":3,"ra_s":28.19,"dec_am":35.79},
{"contour":"c9","kind":"solid","order":4,"ra_s":28.60,"dec_am":36.18},
{"contour":"c9","kind":"solid","order":5,"ra_s":30.09,"dec_am":36.34},
{"contour":"c9","kind":"solid","order":6,"ra_s":31.50,"dec_am":36.18},
{"contour":"c9","kind":"solid","order":7,"ra_s":32.08,"dec_am":35.70},
{"contour":"c9","kind":"solid","order":8,"ra_s":31.75,"dec_am":35.31}
]
},
"layer": [
{
"data": {"name": "contours"},
"transform": [{"filter": "datum.kind == 'solid'"}],
"mark": {"type": "line", "interpolate": "cardinal-closed", "stroke": "#1e1e1e", "strokeWidth": 4.6},
"encoding": {
"x": {"field": "ra_s", "type": "quantitative",
"scale": {"domain": [-0.07, 75.58], "reverse": true, "nice": false, "zero": false},
"axis": {"orient": "bottom", "values": [30, 60], "title": "Right\u00a0 Ascension(1950.0)",
"domain": false, "grid": false, "tickSize": -48, "tickWidth": 4.5, "tickColor": "#1e1e1e",
"labelExpr": "datum.value == 60 ? ['\u200b\u00a0\u00a0\u00a0\u00a0h\u00a0\u00a0\u00a0\u00a0m\u00a0\u00a0\u00a0\u00a0s\u00a0\u00a0\u200b', '05\u00a0\u00a012\u00a0\u00a0\u00a000\u00a0\u00a0\u00a0\u00a0\u200b'] : ['\u200b\u00a0\u00a0\u00a0\u00a0h\u00a0\u00a0\u00a0\u00a0m\u00a0\u00a0\u00a0\u00a0s', '05\u00a0\u00a011\u00a0\u00a0\u00a030\u00a0\u00a0\u200b']",
"labelFont": "Liberation Sans, sans-serif", "labelFontSize": 64, "labelColor": "#1e1e1e",
"labelLineHeight": 41, "labelBaseline": "top", "labelAlign": "center", "labelPadding": 82, "labelLimit": 1000,
"labelOverlap": false, "labelFlush": false, "labelBound": false,
"titleFont": "DejaVu Sans", "titleFontSize": 60, "titleFontWeight": "normal", "titleColor": "#1e1e1e", "titlePadding": 58, "titleX": 475}},
"y": {"field": "dec_am", "type": "quantitative",
"scale": {"domain": [17.35, 48.49], "reverse": true, "nice": false, "zero": false},
"axis": {"orient": "left", "values": [20, 30, 40], "title": "Declination (1950.0)",
"domain": false, "grid": false, "tickSize": -48, "tickWidth": 4.5, "tickColor": "#1e1e1e",
"labelExpr": "'\u221230\u00b0\u00a0\u2009' + datum.value + '\u2032'",
"labelFont": "Liberation Sans, sans-serif", "labelFontSize": 64, "labelColor": "#1e1e1e",
"labelBaseline": "middle", "labelAlign": "right", "labelPadding": 98, "labelLimit": 1000,
"labelOverlap": false, "labelFlush": false, "labelBound": false,
"titleFont": "DejaVu Sans", "titleFontSize": 60, "titleFontWeight": "normal", "titleColor": "#1e1e1e", "titlePadding": 102, "titleY": 851}},
"detail": {"field": "contour"},
"order": {"field": "order", "type": "quantitative"}
}
},
{
"data": {"name": "contours"},
"transform": [{"filter": "datum.kind == 'dashed'"}],
"mark": {"type": "line", "interpolate": "cardinal-closed", "stroke": "#1e1e1e", "strokeWidth": 4.6, "strokeDash": [18, 12]},
"encoding": {
"x": {"field": "ra_s", "type": "quantitative", "scale": {"domain": [-0.07, 75.58], "reverse": true, "nice": false, "zero": false}, "axis": null},
"y": {"field": "dec_am", "type": "quantitative", "scale": {"domain": [17.35, 48.49], "reverse": true, "nice": false, "zero": false}, "axis": null},
"detail": {"field": "contour"},
"order": {"field": "order", "type": "quantitative"}
}
},
{
"data": {"name": "beam"},
"mark": {"type": "point", "shape": "circle", "filled": false, "size": 50625, "stroke": "#1e1e1e", "strokeWidth": 4.6, "opacity": 1},
"encoding": {
"x": {"field": "ra_s", "type": "quantitative", "scale": {"domain": [-0.07, 75.58], "reverse": true, "nice": false, "zero": false},
"axis": {"orient": "top", "values": [30, 60], "labels": false, "title": null, "domain": false, "grid": false, "tickSize": -48, "tickWidth": 4.5, "tickColor": "#1e1e1e"}},
"y": {"field": "dec_am", "type": "quantitative", "scale": {"domain": [17.35, 48.49], "reverse": true, "nice": false, "zero": false},
"axis": {"orient": "right", "values": [20, 30, 40], "labels": false, "title": null, "domain": false, "grid": false, "tickSize": -48, "tickWidth": 4.5, "tickColor": "#1e1e1e"}}
}
}
],
"resolve": {"axis": {"x": "independent", "y": "independent"}}
}
